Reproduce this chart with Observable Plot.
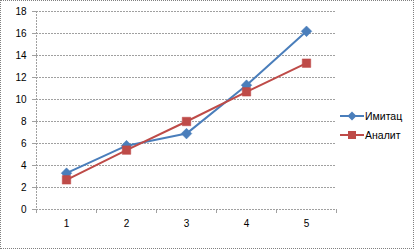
<!DOCTYPE html>
<html><head><meta charset="utf-8">
<script src="https://cdn.jsdelivr.net/npm/d3@7"></script>
<script src="https://cdn.jsdelivr.net/npm/@observablehq/plot@0.6"></script>
<style>
body{margin:0;background:#fff;}
#wrap{position:relative;width:414px;height:249px;font-family:"Liberation Sans",Arial,sans-serif;}
#frame{position:absolute;left:0;top:0;width:414px;height:249px;box-sizing:border-box;border:1px dotted #808080;pointer-events:none;}
#chart{position:absolute;left:0;top:0;}
#legend{position:absolute;left:340px;top:106px;font-size:10.5px;color:#000;}
.li{display:flex;align-items:center;height:19px;}
.li span{margin-left:1px;}
</style></head>
<body><div id="wrap"><div id="chart"></div><div id="legend"></div><div id="frame"></div></div>
<script>
const categories = [1, 2, 3, 4, 5];
const seriesNames = ["Имитац", "Аналит"];
const imitac = [3.3, 5.8, 6.9, 11.3, 16.2];
const analit = [2.7, 5.4, 8.0, 10.7, 13.3];
const yTicks = [0, 2, 4, 6, 8, 10, 12, 14, 16, 18];
const colors = ["#4A7EBB", "#BE4B48"];
const symbols = ["diamond2", "square"];

const data = [];
categories.forEach((c, i) => {
  data.push({x: c, y: imitac[i], s: seriesNames[0]});
  data.push({x: c, y: analit[i], s: seriesNames[1]});
});
const bounds = categories.map(c => c - 0.5).concat([categories[categories.length - 1] + 0.5]);

const chart = Plot.plot({
  width: 414, height: 249,
  marginLeft: 36, marginRight: 78, marginTop: 11, marginBottom: 40,
  style: {fontFamily: "Liberation Sans, Arial, sans-serif", fontSize: "10px", color: "#000", background: "transparent"},
  x: {type: "linear", domain: [bounds[0], bounds[bounds.length - 1]]},
  y: {domain: [0, 18]},
  color: {domain: seriesNames, range: colors},
  symbol: {domain: seriesNames, range: symbols},
  marks: [
    Plot.gridY(yTicks, {stroke: "#a0a0a0", strokeOpacity: 1, strokeDasharray: "2,1"}),
    Plot.ruleX([bounds[0]], {stroke: "#a0a0a0", strokeDasharray: "2,1"}),
    Plot.axisY(yTicks, {tickSize: 4, tickPadding: 6, stroke: "#a0a0a0", label: null, fill: "#000"}),
    Plot.axisX(bounds, {tickSize: 4, tickFormat: () => "", stroke: "#a0a0a0", label: null}),
    Plot.axisX(categories, {tickSize: 0, tickPadding: 10, label: null, fill: "#000"}),
    Plot.line(data, {x: "x", y: "y", z: "s", stroke: "s", strokeWidth: 2}),
    Plot.dot(data, {x: "x", y: "y", symbol: "s", fill: "s", stroke: "s", strokeWidth: 0.5, r: 4.8})
  ]
});
document.getElementById("chart").appendChild(chart);

const legend = document.getElementById("legend");
seriesNames.forEach((name, i) => {
  const div = document.createElement("div");
  div.className = "li";
  const sym = symbols[i] === "diamond2"
    ? `<path d="M12,3.5 L16.5,8 L12,12.5 L7.5,8 Z" fill="${colors[i]}"/>`
    : `<rect x="8" y="4" width="8" height="8" fill="${colors[i]}"/>`;
  div.innerHTML = `<svg width="24" height="16"><line x1="0" x2="24" y1="8" y2="8" stroke="${colors[i]}" stroke-width="2"/>${sym}</svg><span>${name}</span>`;
  legend.appendChild(div);
});
</script></body></html>
